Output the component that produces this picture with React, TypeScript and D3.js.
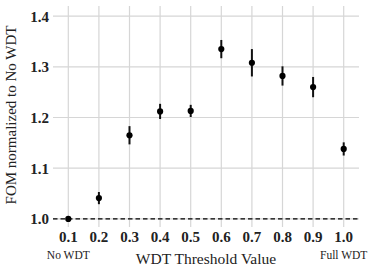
import React from "react";
import * as d3 from "d3";

const thresholds = [0.1, 0.2, 0.3, 0.4, 0.5, 0.6, 0.7, 0.8, 0.9, 1.0];
const fomValues = [1.0, 1.041, 1.165, 1.212, 1.213, 1.335, 1.308, 1.282, 1.26, 1.138];
const fomErrors = [0, 0.012, 0.018, 0.015, 0.012, 0.018, 0.027, 0.019, 0.02, 0.013];
const xTickLabels = ["0.1", "0.2", "0.3", "0.4", "0.5", "0.6", "0.7", "0.8", "0.9", "1.0"];
const yTicks = [1.0, 1.1, 1.2, 1.3, 1.4];
const endLabels = [
  { x: 0.1, text: "No WDT" },
  { x: 1.0, text: "Full WDT" },
];

const W = 374;
const H = 273;
const left = 53;
const right = 359;
const top = 6;
const bottom = 227;
const FONT = "Liberation Serif";

export default function App() {
  const x = d3.scaleLinear().domain([0.05, 1.05]).range([left, right]);
  const y = d3.scaleLinear().domain([0.984, 1.42]).range([bottom, top]);
  const grid = "#d6d6d6";
  const ts = { fontFamily: FONT };

  return (
    <svg
      width={W}
      height={H}
      style={{ position: "absolute", left: 0, top: 0, background: "#fff", fontFamily: FONT }}
    >
      <rect x={0} y={0} width={W} height={H} fill="#fff" />
      {yTicks.map((t) => (
        <line key={"gy" + t} x1={left} x2={right} y1={y(t)} y2={y(t)} stroke={grid} strokeWidth={1.2} />
      ))}
      {thresholds.map((t) => (
        <line key={"gx" + t} x1={x(t)} x2={x(t)} y1={top} y2={bottom} stroke={grid} strokeWidth={1.2} />
      ))}
      <line
        x1={left}
        x2={right}
        y1={y(1)}
        y2={y(1)}
        stroke="#000"
        strokeWidth={1.4}
        strokeDasharray="4.5,3"
      />
      {thresholds.map((t, i) =>
        fomErrors[i] > 0 ? (
          <line
            key={"e" + t}
            x1={x(t)}
            x2={x(t)}
            y1={y(fomValues[i] - fomErrors[i])}
            y2={y(fomValues[i] + fomErrors[i])}
            stroke="#111"
            strokeWidth={2}
          />
        ) : null
      )}
      {thresholds.map((t, i) => (
        <circle key={"p" + t} cx={x(t)} cy={y(fomValues[i])} r={3.1} fill="#000" />
      ))}
      {yTicks.map((t) => (
        <text
          key={"ty" + t}
          x={49}
          y={y(t)}
          dy="0.36em"
          textAnchor="end"
          fontSize={15}
          fontWeight="bold"
          fill="#222"
          style={ts}
        >
          {d3.format(".1f")(t)}
        </text>
      ))}
      {thresholds.map((t, i) => (
        <text
          key={"tx" + t}
          x={x(t)}
          y={242}
          textAnchor="middle"
          fontSize={15}
          fontWeight="bold"
          fill="#222"
          style={ts}
        >
          {xTickLabels[i]}
        </text>
      ))}
      {endLabels.map((d) => (
        <text key={d.text} x={x(d.x)} y={259} textAnchor="middle" fontSize={11.5} fill="#222" style={ts}>
          {d.text}
        </text>
      ))}
      <text x={206} y={264} textAnchor="middle" fontSize={15.5} fill="#222" style={ts}>
        WDT Threshold Value
      </text>
      <text
        transform={`translate(16,115) rotate(-90)`}
        textAnchor="middle"
        fontSize={15}
        fill="#222"
        style={ts}
      >
        FOM normalized to No WDT
      </text>
    </svg>
  );
}
